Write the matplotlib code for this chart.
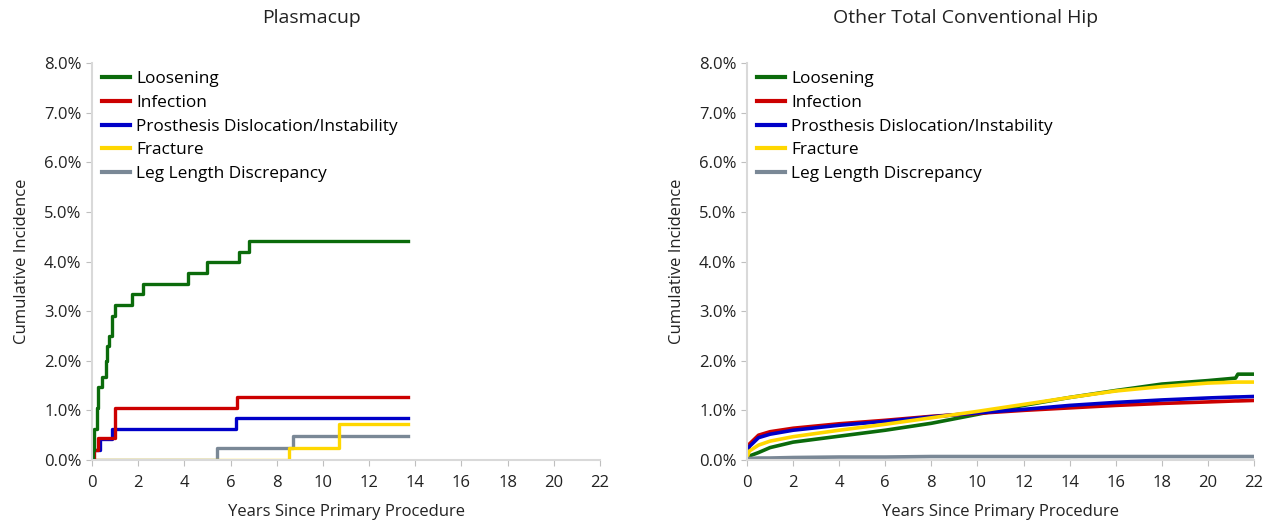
import matplotlib
matplotlib.use("Agg")
import matplotlib.pyplot as plt
from matplotlib.ticker import FuncFormatter, MultipleLocator

plt.rcParams['font.family'] = ['Open Sans', 'DejaVu Sans']

labels = ["Loosening", "Infection", "Prosthesis Dislocation/Instability", "Fracture", "Leg Length Discrepancy"]
colors = ["#0b6b0b", "#cc0000", "#0000c8", "#ffd700", "#7a8896"]

# Plasmacup (step curves), years / cumulative %
pc_loos_x = [0, 0.05, 0.1, 0.2, 0.25, 0.45, 0.6, 0.65, 0.75, 0.85, 1.0, 1.72, 2.22, 4.14, 5.0, 6.35, 6.8, 13.7]
pc_loos_y = [0, 0.21, 0.63, 1.05, 1.47, 1.68, 2.0, 2.3, 2.5, 2.9, 3.12, 3.34, 3.55, 3.77, 3.98, 4.19, 4.41, 4.41]
pc_inf_x = [0, 0.1, 0.25, 1.0, 6.3, 13.7]
pc_inf_y = [0, 0.21, 0.44, 1.05, 1.26, 1.26]
pc_disl_x = [0, 0.05, 0.35, 0.85, 6.25, 13.7]
pc_disl_y = [0, 0.21, 0.42, 0.63, 0.84, 0.84]
pc_frac_x = [0, 8.55, 10.7, 13.7]
pc_frac_y = [0, 0.24, 0.72, 0.72]
pc_leg_x = [0, 5.4, 8.7, 13.7]
pc_leg_y = [0, 0.24, 0.48, 0.48]

# Other Total Conventional Hip
oth_x = [0, 0.1, 0.5, 1, 2, 4, 6, 8, 10, 12, 14, 16, 18, 20, 21.2, 21.3, 22]
oth_loos = [0.03, 0.08, 0.15, 0.25, 0.36, 0.48, 0.6, 0.74, 0.92, 1.1, 1.26, 1.4, 1.53, 1.6, 1.65, 1.73, 1.73]
oth_inf = [0.1, 0.32, 0.5, 0.57, 0.64, 0.73, 0.8, 0.88, 0.94, 1.0, 1.05, 1.1, 1.14, 1.17, 1.19, 1.19, 1.2]
oth_disl = [0.08, 0.27, 0.45, 0.52, 0.6, 0.7, 0.78, 0.87, 0.95, 1.02, 1.1, 1.16, 1.21, 1.25, 1.27, 1.27, 1.28]
oth_frac = [0.05, 0.18, 0.3, 0.38, 0.47, 0.6, 0.72, 0.85, 0.98, 1.12, 1.26, 1.39, 1.48, 1.55, 1.57, 1.57, 1.57]
oth_leg = [0.02, 0.03, 0.04, 0.04, 0.05, 0.06, 0.06, 0.07, 0.07, 0.07, 0.07, 0.07, 0.07, 0.07, 0.07, 0.07, 0.07]

fig = plt.figure(figsize=(12.75, 5.24), dpi=100)
ax1 = fig.add_axes([92/1275, 64/524, 508/1275, 397/524])
ax2 = fig.add_axes([747/1275, 64/524, 507/1275, 397/524])

pc = [(pc_loos_x, pc_loos_y), (pc_inf_x, pc_inf_y), (pc_disl_x, pc_disl_y),
      (pc_frac_x, pc_frac_y), (pc_leg_x, pc_leg_y)]
# draw order so green is on top-ish like the original
for i in [4, 3, 2, 1, 0]:
    x, y = pc[i]
    ax1.plot(x, y, drawstyle='steps-post', color=colors[i], lw=2.4, label=labels[i])

oth = [oth_loos, oth_inf, oth_disl, oth_frac, oth_leg]
for i in [0, 1, 2, 3, 4]:
    ax2.plot(oth_x, oth[i], color=colors[i], lw=2.6, label=labels[i])

for ax, title, tx in [(ax1, "Plasmacup", 311/1275), (ax2, "Other Total Conventional Hip", 966/1275)]:
    ax.set_xlim(0, 22)
    ax.set_ylim(0, 8)
    ax.xaxis.set_major_locator(MultipleLocator(2))
    ax.yaxis.set_major_locator(MultipleLocator(1))
    ax.yaxis.set_major_formatter(FuncFormatter(lambda v, p: "%.1f%%" % v))
    for s in ['top', 'right']:
        ax.spines[s].set_visible(False)
    for s in ['left', 'bottom']:
        ax.spines[s].set_color('#d9d9d9')
        ax.spines[s].set_linewidth(1.5)
    ax.tick_params(colors='#bfbfbf', labelcolor='#222222', labelsize=12, length=4)
    ax.tick_params(axis='x', pad=7)
    fig.text(tx, 1 - 18/524, title, fontsize=14, color='#222222', ha='center', va='center')
    ax.set_xlabel("Years Since Primary Procedure", fontsize=12, color='#222222', labelpad=9)
    ax.set_ylabel("Cumulative Incidence", fontsize=12, color='#222222', labelpad=10)
    h, l = ax.get_legend_handles_labels()
    order = [l.index(n) for n in labels]
    leg = ax.legend([h[k] for k in order], [l[k] for k in order], loc='upper left',
                    frameon=False, fontsize=12.4, handlelength=1.6, handletextpad=0.35,
                    labelspacing=0.44, borderaxespad=0.2, bbox_to_anchor=(0.0, 1.005))
    for line in leg.get_lines():
        line.set_linewidth(3)

fig.savefig("out.png", dpi=100)
